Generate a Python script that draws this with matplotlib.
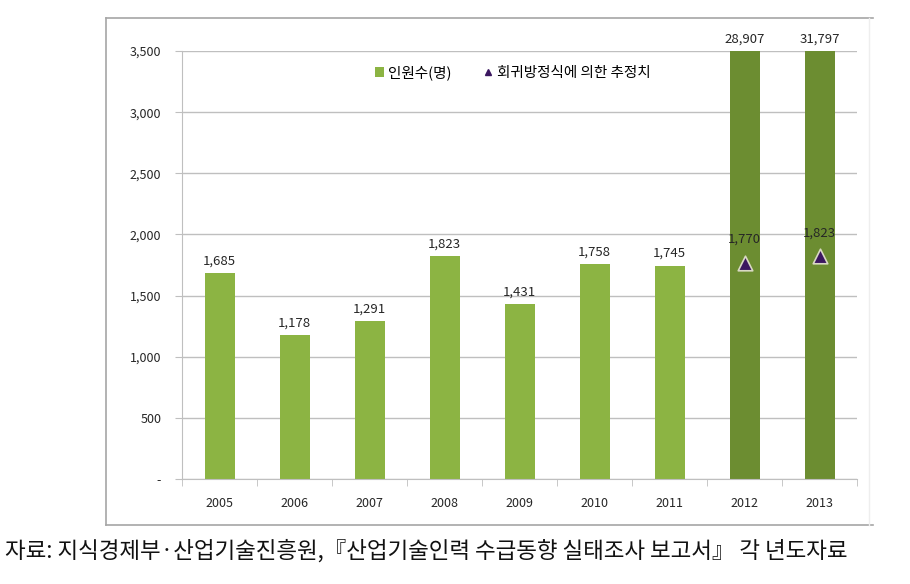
import matplotlib
matplotlib.use("Agg")
import matplotlib.pyplot as plt
from matplotlib.lines import Line2D
from matplotlib.patches import Patch

plt.rcParams['font.family'] = ['Noto Sans CJK KR', 'DejaVu Sans']

years = ['2005', '2006', '2007', '2008', '2009', '2010', '2011', '2012', '2013']
counts = [1685, 1178, 1291, 1823, 1431, 1758, 1745, 28907, 31797]
est_years = ['2012', '2013']
est_values = [1770, 1823]
yticks = [0, 500, 1000, 1500, 2000, 2500, 3000, 3500]
ytick_labels = ['-', '500', '1,000', '1,500', '2,000', '2,500', '3,000', '3,500']
caption = '자료: 지식경제부·산업기술진흥원,『산업기술인력 수급동향 실태조사 보고서』 각 년도자료'

W, H = 910, 584
fig = plt.figure(figsize=(W / 100, H / 100), dpi=100)

# outer chart frame
def fline(x0, y0, x1, y1, c, lw=1.0):
    fig.add_artist(Line2D([x0 / W, x1 / W], [1 - y0 / H, 1 - y1 / H],
                          transform=fig.transFigure, color=c, linewidth=lw))

fline(106, 18, 873, 18, '#a6a6a6', 1.2)
fline(106, 18, 106, 525, '#a6a6a6', 1.2)
fline(106, 525, 873, 525, '#a6a6a6', 1.2)
fline(869, 18, 869, 525, '#eeeeee', 1.0)

ax = fig.add_axes([182 / W, 1 - 479 / H, 675 / W, 428 / H])
x = list(range(len(years)))
colors = ['#8cb443'] * 7 + ['#6c8d31'] * 2
ax.bar(x, counts, width=0.4, color=colors, zorder=2)

ymax = 3500
ax.set_ylim(0, ymax)
ax.set_xlim(-0.5, len(years) - 0.5)

for xi, v in zip(x, counts):
    yv = min(v, ymax)
    ax.annotate(f'{v:,}', (xi, yv), xytext=(0, 4), textcoords='offset points',
                ha='center', va='bottom', fontsize=9.5, color='#262626', annotation_clip=False)

ex = [years.index(y) for y in est_years]
ax.scatter(ex, est_values, marker='^', s=110, color='#3b1760', edgecolors='#d9d9c4',
           linewidths=1.2, zorder=4)
for xi, v in zip(ex, est_values):
    ax.annotate(f'{v:,}', (xi, v), xytext=(0, 12), textcoords='offset points',
                ha='center', va='bottom', fontsize=9.5, color='#262626')

ax.set_yticks(yticks)
ax.set_yticklabels(ytick_labels, fontsize=9, color='#262626')
ax.set_xticks(x)
ax.set_xticklabels(years, fontsize=9, color='#262626')
ax.grid(axis='y', color='#bfbfbf', linewidth=1.0, zorder=0)
ax.set_axisbelow(True)

for s in ['top', 'right']:
    ax.spines[s].set_visible(False)
ax.spines['left'].set_color('#bfbfbf')
ax.spines['bottom'].set_color('#bfbfbf')
ax.tick_params(axis='y', length=5, color='#bfbfbf', pad=10)
ax.tick_params(axis='x', length=0, pad=13)
ax.set_xticks([i - 0.5 for i in range(len(years) + 1)], minor=True)
ax.tick_params(axis='x', which='minor', length=5, color='#bfbfbf')

handles = [Patch(facecolor='#8cb443', edgecolor='none'),
           Line2D([], [], marker='^', linestyle='none', color='#3b1760', markersize=5)]
ax.legend(handles, ['인원수(명)', '회귀방정식에 의한 추정치'], loc='center',
          bbox_to_anchor=(0.49, 0.949), ncol=2, frameon=False, fontsize=10.5,
          handlelength=0.6, handleheight=0.6, handletextpad=0.3, columnspacing=2.2)

fig.text(5 / W, 1 - 551 / H, caption, fontsize=16.2, ha='left', va='center', color='#111111')

fig.savefig('out.png', dpi=100)
